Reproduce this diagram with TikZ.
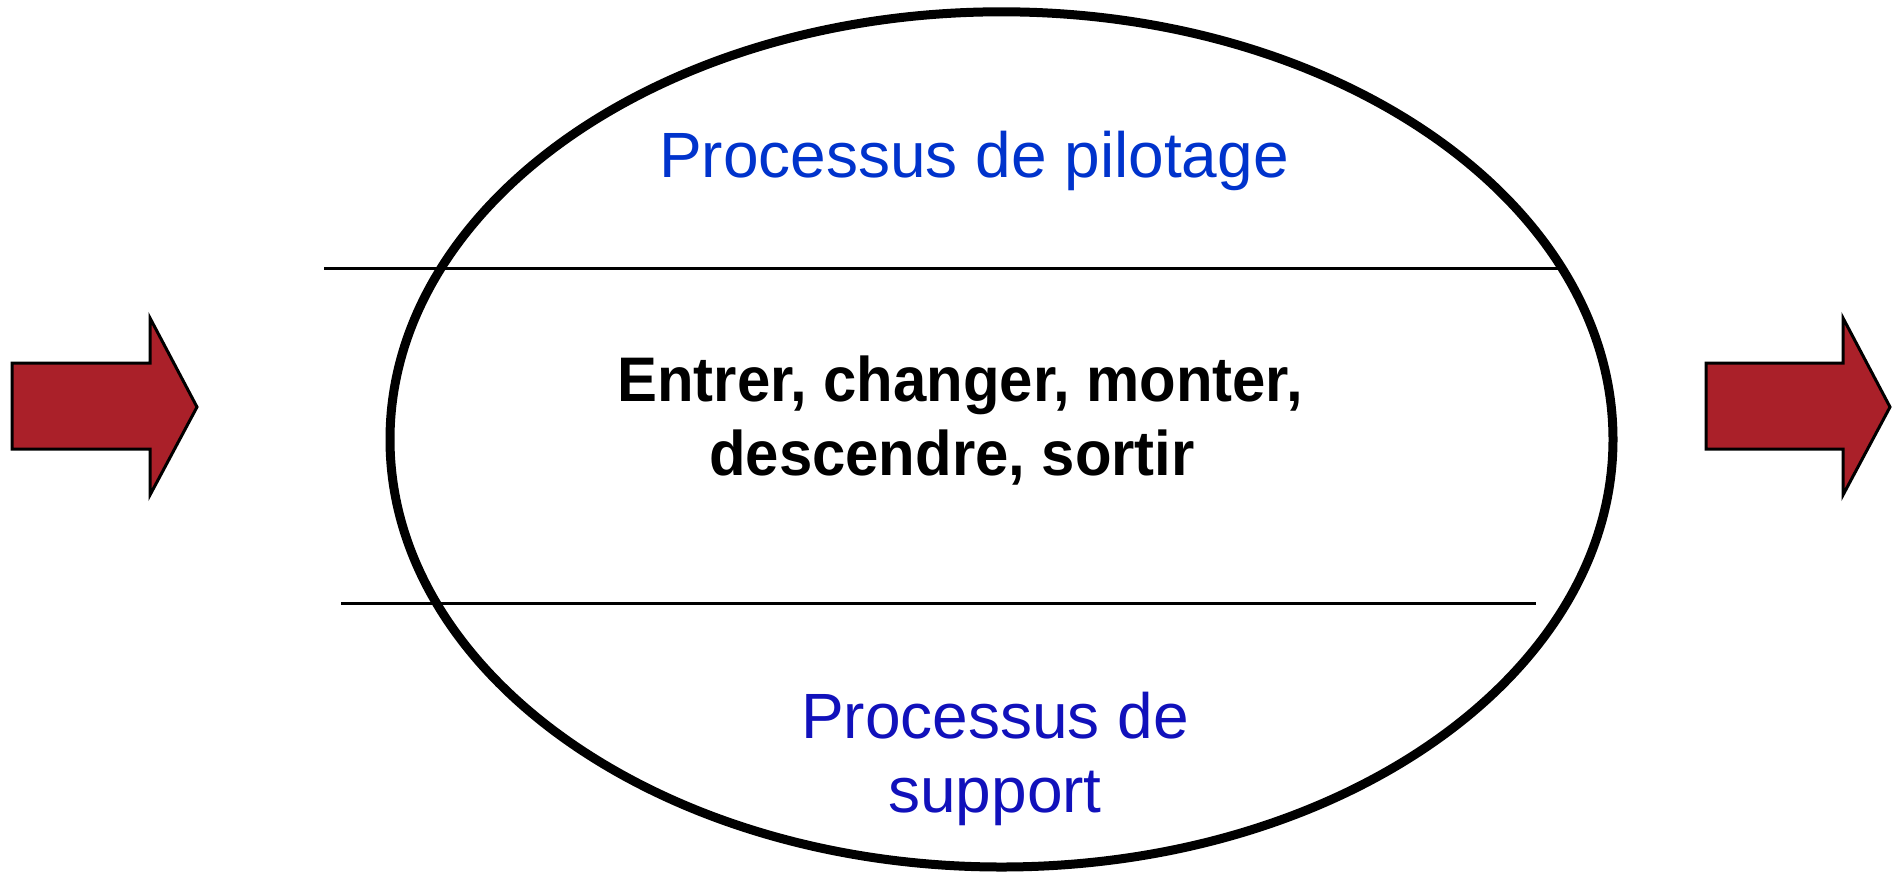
\documentclass[tikz,border=0pt]{standalone}
\usepackage{fontspec}
\setmainfont{Liberation Sans}
\definecolor{arrowred}{RGB}{170,32,41}
\definecolor{topblue}{RGB}{0,51,204}
\definecolor{lowblue}{RGB}{17,17,187}
\tikzset{
  flowarrow/.style={draw=black, line width=3pt, fill=arrowred, line join=miter},
  divider/.style={draw=black, line width=3pt},
  toplabel/.style={anchor=base, inner sep=0pt, text=topblue, font=\fontsize{64}{76}\selectfont},
  lowlabel/.style={anchor=base, inner sep=0pt, text=lowblue, font=\fontsize{64}{76}\selectfont},
  corelabel/.style={anchor=base, inner sep=0pt, text=black, font=\fontsize{63}{75}\selectfont\bfseries, xscale=0.95},
}
\begin{document}
\begin{tikzpicture}[x=1pt, y=-1pt]
\useasboundingbox (0,0) rectangle (1894,871);

% process boundary
\draw[line width=9pt] (1001.5,439.4) ellipse [x radius=611.5, y radius=427.6];

% band separators
\coordinate (t1) at (324,268);
\coordinate (t2) at (1559,268);
\coordinate (b1) at (341,603);
\coordinate (b2) at (1536,603);
\draw[divider] (t1) -- (t2);
\draw[divider] (b1) -- (b2);

% input and output arrows
\draw[flowarrow] (12,363) -- (150,363) -- (150,318) -- (197,407) -- (150,495) -- (150,449) -- (12,449) -- cycle;
\draw[flowarrow] (1706,363) -- (1843,363) -- (1843,318) -- (1890,407) -- (1843,495) -- (1843,449) -- (1706,449) -- cycle;

% labels
\node[toplabel] (pilot) at (974,177) {Processus de pilotage};
\node[corelabel] (core1) at (960,401) {Entrer, changer, monter,};
\node[corelabel] (core2) at (952,475) {descendre, sortir};
\node[lowlabel] (supp1) at (995,738) {Processus de};
\node[lowlabel] (supp2) at (995,812) {support};
\end{tikzpicture}
\end{document}
